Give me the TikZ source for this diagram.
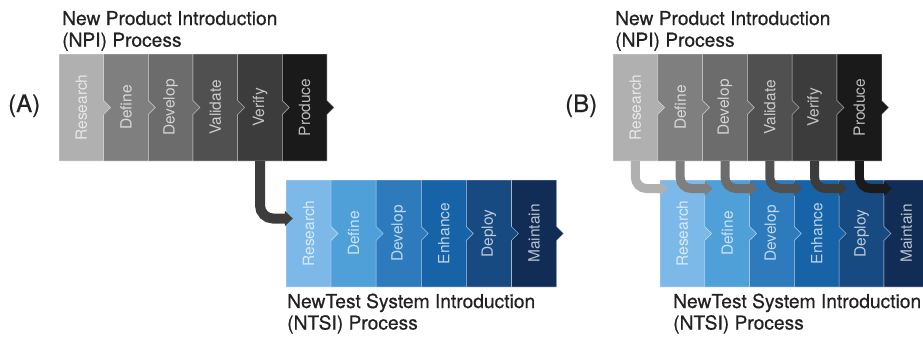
\documentclass[tikz,border=0pt]{standalone}
\usepackage{fontspec}
\setmainfont{TeX Gyre Heros}
\newfontfamily\ttlfont{TeX Gyre Heros}[FakeBold=0.5]
\usetikzlibrary{arrows.meta}
\definecolor{npic0}{HTML}{B0B0B0}
\definecolor{npic1}{HTML}{7F7F7F}
\definecolor{npic2}{HTML}{6C6C6C}
\definecolor{npic3}{HTML}{505050}
\definecolor{npic4}{HTML}{3C3C3C}
\definecolor{npic5}{HTML}{1A1A1A}
\definecolor{ntc0}{HTML}{7DB9E8}
\definecolor{ntc1}{HTML}{4F9FD9}
\definecolor{ntc2}{HTML}{2D7BBD}
\definecolor{ntc3}{HTML}{1763A8}
\definecolor{ntc4}{HTML}{164A80}
\definecolor{ntc5}{HTML}{112D56}
\definecolor{ttlc}{HTML}{222222}
\newcommand\chevrow[6]{% #1 prefix, #2 left x, #3 width, #4 top, #5 bottom, #6 list
  \pgfmathsetmacro\rmid{(#4+#5)/2}
  \foreach \lab/\col [count=\i from 0] in {#6} {
    \pgfmathsetmacro\xl{#2+\i*#3}
    \pgfmathsetmacro\xr{\xl+#3}
    \pgfmathsetmacro\xc{\xl+#3/2}
    \ifnum\i=0
      \filldraw[fill=\col, chevedge] (\xl,#4) -- (\xr,#4) -- (\xr,\rmid-7) -- (\xr+7,\rmid) -- (\xr,\rmid+7) -- (\xr,#5) -- (\xl,#5) -- cycle;
    \else
      \filldraw[fill=\col, chevedge] (\xl,#4) -- (\xr,#4) -- (\xr,\rmid-7) -- (\xr+7,\rmid) -- (\xr,\rmid+7) -- (\xr,#5) -- (\xl,#5) -- (\xl,\rmid+7) -- (\xl+7,\rmid) -- (\xl,\rmid-7) -- cycle;
    \fi
    \node[inner sep=0, minimum width=#3bp, minimum height={(#5-#4)*1bp}] (#1\i) at (\xc,\rmid) {};
    \node[lbl] (#1\i-t) at (#1\i) {\lab};
  }
}
\begin{document}
\begin{tikzpicture}[x=1bp,y=-1bp,
  chevedge/.style={draw=white, draw opacity=0.4, line width=0.6bp},
  lbl/.style={rotate=90, inner sep=0, text=white, text opacity=0.7,
    font=\fontsize{15.5bp}{16bp}\selectfont},
  ttl/.style={anchor=base west, inner sep=0, text=ttlc,
    font=\ttlfont\fontsize{19.2bp}{22bp}\selectfont},
  tag/.style={anchor=base west, inner sep=0, text=ttlc,
    font=\ttlfont\fontsize{24bp}{26bp}\selectfont},
  hookA/.style={line width=10bp, rounded corners=13bp,
    -{Triangle[width=15bp,length=8bp]}},
  hookB/.style={line width=9bp, rounded corners=11bp,
    -{Triangle[width=14bp,length=8bp]}}
]
\useasboundingbox (0,0) rectangle (923,336);
\clip (0,0) rectangle (923,336);

% ---------- Panel A ----------
\node[tag] (tagA) at (8,112) {(A)};
\node[ttl] (npiAt1) at (62,25) {New Product Introduction};
\node[ttl] (npiAt2) at (62,46.7) {(NPI) Process};
\chevrow{npiA}{59}{44.67}{54}{161}{Research/npic0,Define/npic1,Develop/npic2,Validate/npic3,Verify/npic4,Produce/npic5}
\chevrow{ntsiA}{286}{45.1}{180}{287}{Research/ntc0,Define/ntc1,Develop/ntc2,Enhance/ntc3,Deploy/ntc4,Maintain/ntc5}
\draw[hookA, draw=npic4] (npiA4.south) |- ([shift={(7,-15)}]ntsiA0.west);
\node[ttl] (ntsiAt1) at (287,308) {NewTest System Introduction};
\node[ttl] (ntsiAt2) at (287,329.5) {(NTSI) Process};

% ---------- Panel B ----------
\node[tag] (tagB) at (565,112) {(B)};
\node[ttl] (npiBt1) at (615,25) {New Product Introduction};
\node[ttl] (npiBt2) at (615,46.7) {(NPI) Process};
\chevrow{npiB}{613}{44.8}{54}{161}{Research/npic0,Define/npic1,Develop/npic2,Validate/npic3,Verify/npic4,Produce/npic5}
\chevrow{ntsiB}{660}{44.8}{180}{287}{Research/ntc0,Define/ntc1,Develop/ntc2,Enhance/ntc3,Deploy/ntc4,Maintain/ntc5}
\foreach \i in {0,...,5} {
  \draw[hookB, draw=npic\i] (npiB\i.south) |- ([shift={(8,-45)}]ntsiB\i.west);
}
\node[ttl] (ntsiBt1) at (673,308) {NewTest System Introduction};
\node[ttl] (ntsiBt2) at (673,329.5) {(NTSI) Process};
\end{tikzpicture}
\end{document}
